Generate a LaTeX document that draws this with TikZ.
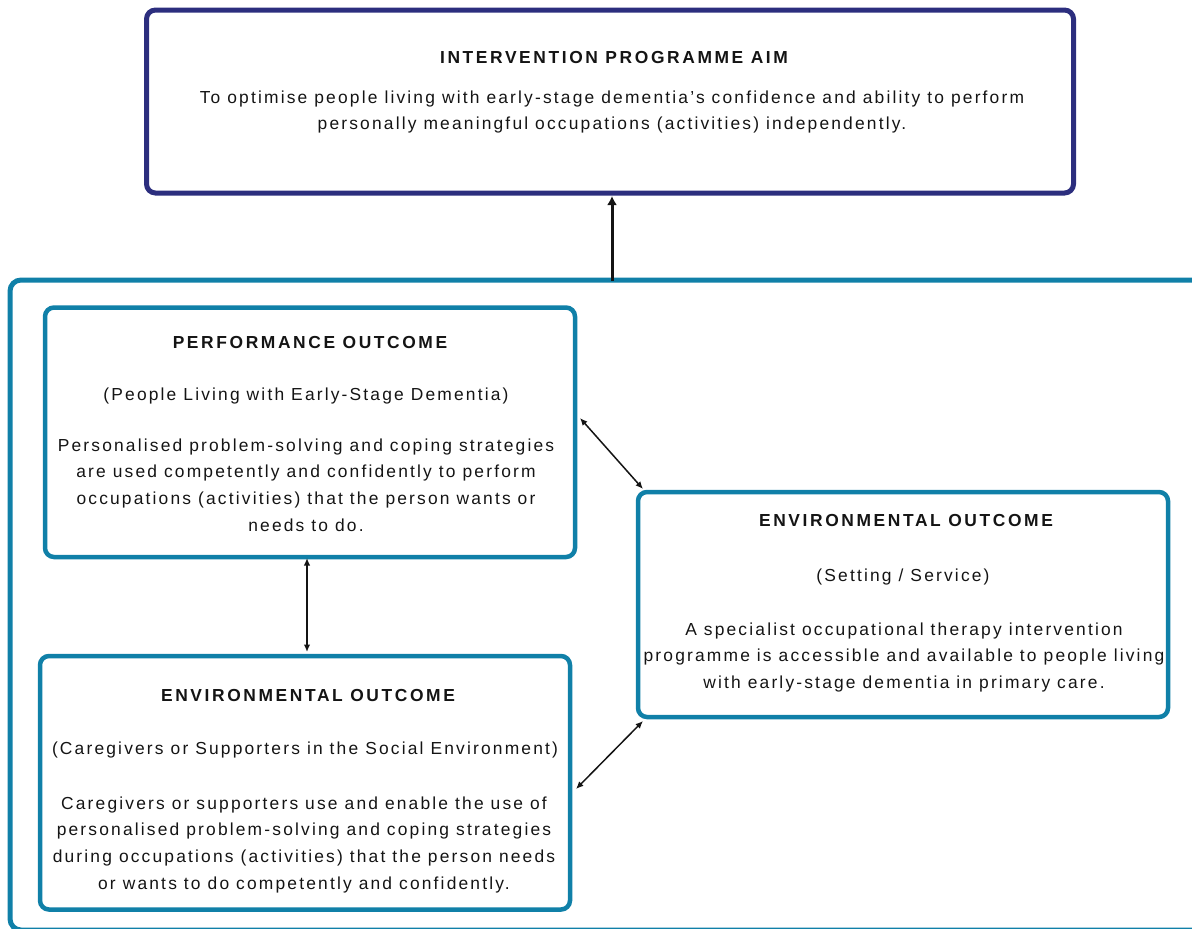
\documentclass[tikz,border=0pt]{standalone}
\usepackage{fontspec}
\setmainfont{Liberation Sans}
\newfontfamily\bodyfont[LetterSpace=12.5]{Liberation Sans}
\newfontfamily\headfont[LetterSpace=15]{Liberation Sans}
\usetikzlibrary{arrows.meta}

\definecolor{aimnavy}{RGB}{44,46,126}
\definecolor{frameteal}{RGB}{16,128,168}
\definecolor{inkblack}{RGB}{20,20,20}

\tikzset{
  aimbox/.style={draw=aimnavy, line width=5pt, rounded corners=9pt, inner sep=0pt},
  framebox/.style={draw=frameteal, line width=5pt, rounded corners=11pt, inner sep=0pt},
  outcomebox/.style={draw=frameteal, line width=4.5pt, rounded corners=9pt, inner sep=0pt,
    minimum width=530pt},
  headtxt/.style={anchor=base, inner sep=0pt, text=inkblack,
    font=\headfont\bfseries\fontsize{17.4}{26.6}\selectfont},
  subtxt/.style={anchor=base, inner sep=0pt, text=inkblack,
    font=\bodyfont\fontsize{17.4}{26.6}\selectfont},
  bodytxt/.style={anchor=north, inner sep=0pt, align=center, text=inkblack,
    font=\bodyfont\fontsize{17.4}{26.6}\selectfont},
  linkarrow/.style={draw=inkblack, line width=1.5pt, {Latex[length=7.5pt,width=6.5pt]}-{Latex[length=7.5pt,width=6.5pt]}},
  mainarrow/.style={draw=inkblack, line width=3pt, -{Latex[length=9pt,width=10pt]}}
}

\begin{document}
\begin{tikzpicture}[x=1pt,y=-1pt]
\useasboundingbox (0,0) rectangle (1192,929);

% programme aim
\node[aimbox, minimum width=927pt, minimum height=183pt] (aim) at (610,101.5) {};
\node[headtxt] (aimhead) at (614,63) {INTERVENTION PROGRAMME AIM};
\node[bodytxt] (aimbody) at (612,90.4) {To optimise people living with early-stage dementia’s confidence and ability to perform\\
personally meaningful occupations (activities) independently.};

% outcome frame (runs past the right and bottom edges)
\node[framebox, minimum width=1195pt, minimum height=650pt] (frame) at (607.5,605) {};

% performance outcome
\node[outcomebox, minimum height=249.5pt] (perf) at (310,432.25) {};
\node[headtxt] (perfhead) at (310,348) {PERFORMANCE OUTCOME};
\node[subtxt] (perfsub) at (306,400) {(People Living with Early-Stage Dementia)};
\node[bodytxt] (perfbody) at (306,438.4) {Personalised problem-solving and coping strategies\\
are used competently and confidently to perform\\
occupations (activities) that the person wants or\\
needs to do.};

% environmental outcome, social environment
\node[outcomebox, minimum height=253.5pt] (envsoc) at (305,782.75) {};
\node[headtxt] (envsochead) at (308,701) {ENVIRONMENTAL OUTCOME};
\node[subtxt] (envsocsub) at (305,754) {(Caregivers or Supporters in the Social Environment)};
\node[bodytxt] (envsocbody) at (304,796.4) {Caregivers or supporters use and enable the use of\\
personalised problem-solving and coping strategies\\
during occupations (activities) that the person needs\\
or wants to do competently and confidently.};

% environmental outcome, setting / service
\node[outcomebox, minimum height=225pt] (envset) at (903,604.5) {};
\node[headtxt] (envsethead) at (906,526) {ENVIRONMENTAL OUTCOME};
\node[subtxt] (envsetsub) at (903,581) {(Setting / Service)};
\node[bodytxt] (envsetbody) at (904,622.4) {A specialist occupational therapy intervention\\
programme is accessible and available to people living\\
with early-stage dementia in primary care.};

% connector end points
\coordinate (upfoot) at (612,281);
\coordinate (uptip) at (612,196);
\coordinate (perfR) at (580,418);
\coordinate (envsetTL) at (643,489);
\coordinate (perfB) at (307,558);
\coordinate (envsocT) at (307,652);
\coordinate (envsocR) at (576,789);
\coordinate (envsetBL) at (643,721);

\draw[mainarrow] (upfoot) -- (uptip);
\draw[linkarrow] (perfR) -- (envsetTL);
\draw[linkarrow] (perfB) -- (envsocT);
\draw[linkarrow] (envsocR) -- (envsetBL);
\end{tikzpicture}
\end{document}
